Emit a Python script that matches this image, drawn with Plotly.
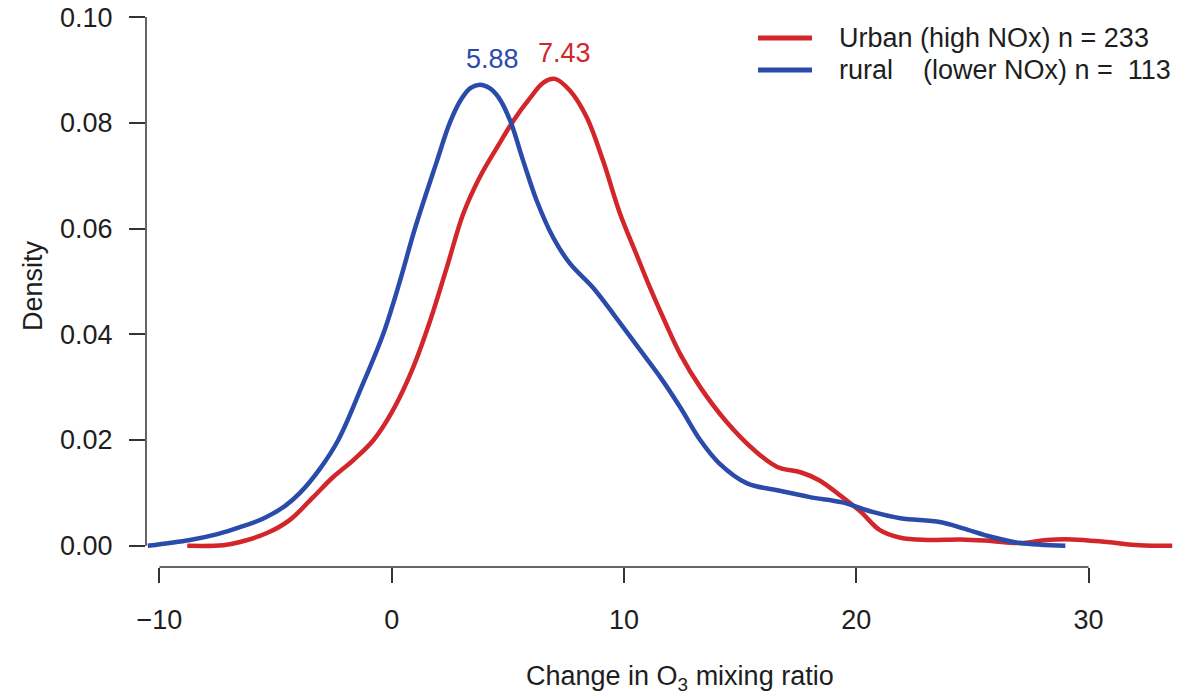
import plotly.graph_objects as go

# ---- data ----
rural_x = [-10.5, -8.68, -7.5, -6.53, -5.5, -4.6, -3.95, -3.1, -2.3, -1.3, -0.37, 0.35, 1.0, 1.95,
           2.5, 3.0, 3.4, 3.8, 4.2, 4.6, 5.1, 5.66, 6.24, 6.95, 7.67, 8.67, 9.6, 10.7, 11.56, 12.42,
           13.28, 14.1, 15.3, 16.6, 18.0, 19.4, 20.7, 21.9, 23.6, 24.6, 25.8, 27.05, 29.0]
rural_y = [0.0, 0.0011, 0.0022, 0.0035, 0.0052, 0.0075, 0.0100, 0.0145, 0.0200, 0.0300, 0.0400,
           0.0500, 0.0600, 0.0728, 0.0800, 0.0845, 0.0866, 0.0872, 0.0866, 0.0848, 0.0804, 0.0728,
           0.0653, 0.0583, 0.0534, 0.0488, 0.0435, 0.0370, 0.0319, 0.0262, 0.0200, 0.0156, 0.0118,
           0.0105, 0.0092, 0.0082, 0.0064, 0.0052, 0.0045, 0.0033, 0.0017, 0.0005, 0.0]

urban_x = [-8.8, -7.25, -6.53, -5.37, -4.38, -3.38, -2.52, -1.65, -0.78, 0.05, 0.93, 1.65, 2.37,
           3.08, 3.8, 4.53, 5.24, 5.96, 6.53, 7.03, 7.67, 8.4, 9.1, 9.83, 10.5, 11.1, 11.75,
           12.45, 13.28, 14.4, 15.6, 16.6, 17.6, 18.4, 19.4, 20.2, 21.0, 21.9, 23.05, 24.5, 25.8,
           27.05, 28.2, 29.3, 30.8, 32.2, 33.6]
urban_y = [0.0, 0.0001, 0.0007, 0.0024, 0.0049, 0.0092, 0.0130, 0.0162, 0.0200, 0.0256, 0.0338,
           0.0425, 0.0526, 0.0628, 0.0698, 0.0753, 0.0804, 0.0847, 0.0876, 0.0883, 0.0861,
           0.0810, 0.0728, 0.0628, 0.0555, 0.0490, 0.0425, 0.0360, 0.0300, 0.0235, 0.0181, 0.0149,
           0.0139, 0.0124, 0.0092, 0.0064, 0.0030, 0.0015, 0.0011, 0.0012, 0.0009, 0.0005, 0.0011,
           0.0012, 0.0007, 0.0001, 0.0]

x_ticks = [-10, 0, 10, 20, 30]
x_tick_text = ["\u221210", "0", "10", "20", "30"]
y_ticks = [0.00, 0.02, 0.04, 0.06, 0.08, 0.10]
y_tick_text = ["0.00", "0.02", "0.04", "0.06", "0.08", "0.10"]

peak_labels = ["5.88", "7.43"]
legend_names = ["Urban (high NOx) n = 233",
                "rural\u00a0\u00a0\u00a0\u00a0(lower NOx) n =\u00a0\u00a0113"]

RED = "#D2262A"
BLUE = "#2A4BAA"
AX = "#333333"
TXT = "#1e1e1e"
FONT = "Liberation Sans, Arial, Helvetica, sans-serif"
FS = 27

fig = go.Figure()
fig.add_trace(go.Scatter(x=urban_x, y=urban_y, mode="lines", name=legend_names[0],
                         line=dict(color=RED, width=4.5, shape="spline", smoothing=1.0),
                         showlegend=False))
fig.add_trace(go.Scatter(x=rural_x, y=rural_y, mode="lines", name=legend_names[1],
                         line=dict(color=BLUE, width=4.5, shape="spline", smoothing=1.0),
                         showlegend=False))

# Axes (R style: detached axis lines drawn as shapes)
fig.update_xaxes(range=[-10.577, 33.935], showgrid=False, zeroline=False, showline=False,
                 automargin=False,
                 tickmode="array", tickvals=x_ticks, ticktext=x_tick_text,
                 ticks="outside", ticklen=15, tickwidth=1.5, tickcolor=AX,
                 tickfont=dict(family=FONT, size=FS, color=TXT), ticklabelstandoff=14)
fig.update_yaxes(range=[-0.00402, 0.1002], showgrid=False, zeroline=False, showline=False,
                 automargin=False,
                 tickmode="array", tickvals=y_ticks, ticktext=y_tick_text,
                 ticks="outside", ticklen=16, tickwidth=1.5, tickcolor=AX,
                 tickfont=dict(family=FONT, size=FS, color=TXT), ticklabelstandoff=11)

fig.add_shape(type="line", xref="paper", yref="y", x0=0, x1=0, y0=0, y1=0.1,
              line=dict(color=AX, width=1.5))
fig.add_shape(type="line", xref="x", yref="paper", x0=-10, x1=30, y0=0, y1=0,
              line=dict(color=AX, width=1.5))

# Peak labels
fig.add_annotation(x=4.36, y=0.0921, text=peak_labels[0], showarrow=False,
                   font=dict(family=FONT, size=FS, color=BLUE))
fig.add_annotation(x=7.46, y=0.0932, text=peak_labels[1], showarrow=False,
                   font=dict(family=FONT, size=FS, color=RED))

# Axis titles
fig.add_annotation(xref="paper", yref="paper", x=0.5164, y=-0.2015,
                   text="Change in O<sub>3</sub> mixing ratio",
                   showarrow=False, xanchor="center", yanchor="middle",
                   font=dict(family=FONT, size=FS, color=TXT))
fig.add_annotation(xref="paper", yref="paper", x=-0.1093, y=0.5118, text="Density", textangle=-90,
                   showarrow=False, xanchor="center", yanchor="middle",
                   font=dict(family=FONT, size=FS, color=TXT))

# Legend (manual, R style)
for i, (nm, col) in enumerate(zip(legend_names, [RED, BLUE])):
    yp = 0.960 - i * 0.058
    fig.add_shape(type="line", xref="paper", yref="paper", x0=0.5919, x1=0.6441, y0=yp, y1=yp,
                  line=dict(color=col, width=5))
    fig.add_annotation(xref="paper", yref="paper", x=0.6683, y=yp, text=nm, showarrow=False,
                       xanchor="left", yanchor="middle",
                       font=dict(family=FONT, size=FS, color=TXT))

fig.update_layout(width=1203, height=694, plot_bgcolor="white", paper_bgcolor="white",
                  margin=dict(l=146, r=23, t=16, b=127), showlegend=False)

fig.write_html("out.html")
